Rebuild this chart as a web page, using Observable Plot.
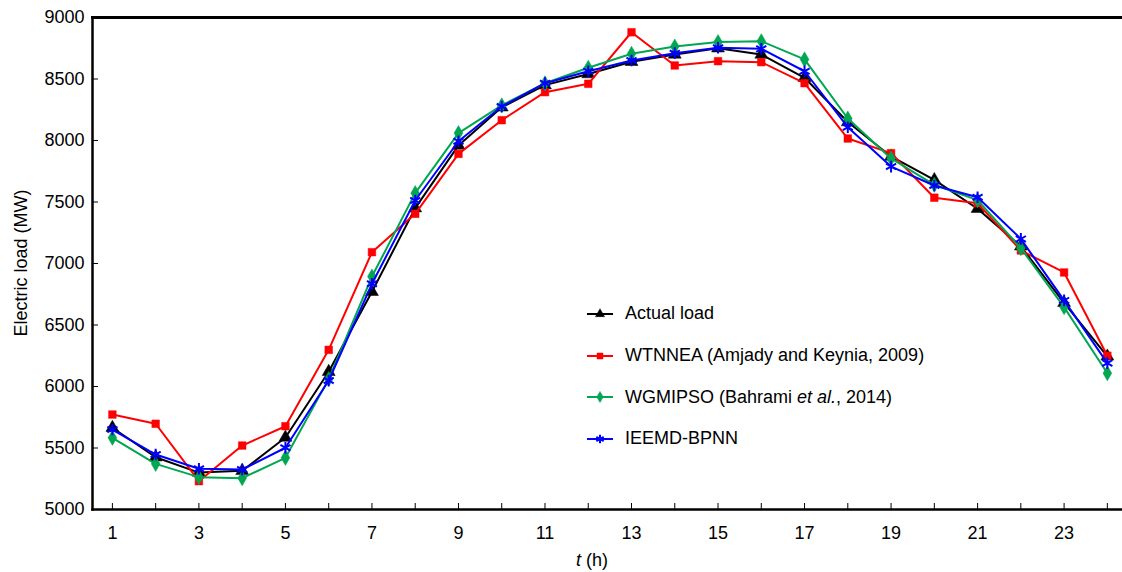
<!DOCTYPE html>
<html>
<head>
<meta charset="utf-8">
<script src="https://cdn.jsdelivr.net/npm/d3@7"></script>
<script src="https://cdn.jsdelivr.net/npm/@observablehq/plot@0.6"></script>
<style>
  html, body { margin: 0; padding: 0; background: #fff; }
  #wrap { position: relative; width: 1122px; height: 572px; font-family: Arial, "Liberation Sans", sans-serif; }
  #legend { position: absolute; left: 587px; top: 293px; font-size: 18px; color: #000; }
  .row { display: flex; align-items: center; height: 41.7px; }
  .row svg { margin-right: 10px; }
</style>
</head>
<body>
<div id="wrap"><div id="legend"></div></div>
<script>
// ---- data ----
const hours = [1,2,3,4,5,6,7,8,9,10,11,12,13,14,15,16,17,18,19,20,21,22,23,24];
const actualLoad = [5665,5425,5300,5315,5585,6120,6770,7450,7960,8270,8450,8540,8640,8700,8750,8700,8510,8150,7870,7680,7445,7140,6680,6245];
const wtnnea     = [5772,5697,5230,5520,5677,6298,7092,7404,7891,8165,8393,8461,8880,8610,8645,8637,8466,8016,7897,7535,7490,7106,6927,6250];
const wgmipso    = [5583,5371,5263,5255,5420,6060,6894,7572,8060,8285,8465,8591,8705,8764,8800,8807,8659,8179,7854,7640,7515,7125,6645,6108];
const ieemd      = [5650,5447,5331,5325,5502,6049,6835,7512,7994,8276,8466,8563,8650,8710,8754,8745,8563,8108,7788,7634,7539,7200,6700,6190];

const seriesNames = ["Actual load", "WTNNEA (Amjady and Keynia, 2009)", "WGMIPSO (Bahrami et al., 2014)", "IEEMD-BPNN"];
const seriesValues = [actualLoad, wtnnea, wgmipso, ieemd];
const seriesColors = ["#000000", "#ff0000", "#00a651", "#0000ff"];
const seriesSymbols = ["triangle", "square", "diamond", "asterisk"];

const xTicksAll = hours;
const xTickLabels = [1,3,5,7,9,11,13,15,17,19,21,23];
const yTicks = [5000,5500,6000,6500,7000,7500,8000,8500,9000];

// ---- long table ----
const rows = [];
seriesValues.forEach((vals, si) => vals.forEach((v, i) => rows.push({series: seriesNames[si], si, hour: hours[i], value: v})));

const marks = [];
seriesNames.forEach((name, si) => {
  const d = rows.filter(r => r.si === si);
  marks.push(Plot.line(d, {x: "hour", y: "value", stroke: seriesColors[si], strokeWidth: 2}));
  const sym = seriesSymbols[si];
  const isStroke = sym === "asterisk";
  marks.push(Plot.dot(d, {
    x: "hour", y: "value", symbol: () => sym,
    r: sym === "diamond" ? 4.6 : (sym === "triangle" ? 4.8 : (isStroke ? 5.5 : 4.3)),
    fill: isStroke ? "none" : seriesColors[si],
    stroke: seriesColors[si], strokeWidth: isStroke ? 2 : 0.5
  }));
});

const chart = Plot.plot({
  width: 1122,
  height: 572,
  marginLeft: 92,
  marginRight: 0,
  marginTop: 17,
  marginBottom: 63,
  style: {fontFamily: "Arial, 'Liberation Sans', sans-serif", fontSize: "18px", background: "white", color: "#000"},
  x: {domain: [0.54, 24.35], label: null},
  y: {domain: [5000, 9000], label: null},
  symbol: {type: "identity"},
  marks: [
    Plot.axisY({ticks: yTicks, tickSize: -6, tickPadding: 14, tickFormat: d => String(d), label: null, fontSize: 18}),
    Plot.axisX({ticks: xTicksAll, tickSize: -6, text: null, label: null}),
    Plot.axisX({ticks: xTickLabels, tickSize: 0, tickPadding: 17, tickFormat: d => String(d), label: null, fontSize: 18}),
    ...marks,
    Plot.frame({anchor: "top", strokeWidth: 3}),
    Plot.frame({anchor: "left", strokeWidth: 2.5}),
    Plot.frame({anchor: "bottom", strokeWidth: 2.5})
  ]
});

const svg = d3.select(chart);
svg.append("text")
  .attr("transform", "translate(27,263) rotate(-90)")
  .attr("text-anchor", "middle")
  .attr("font-size", 18)
  .attr("fill", "#000")
  .text("Electric load (MW)");
const xl = svg.append("text")
  .attr("x", 592).attr("y", 566)
  .attr("text-anchor", "middle")
  .attr("font-size", 18)
  .attr("fill", "#000");
xl.append("tspan").attr("font-style", "italic").text("t");
xl.append("tspan").text(" (h)");

document.getElementById("wrap").prepend(chart);
chart.style.position = "absolute";
chart.style.left = "0";
chart.style.top = "0";

// ---- legend ----
const symbolMap = {triangle: d3.symbolTriangle, square: d3.symbolSquare, diamond: d3.symbolDiamond, asterisk: d3.symbolAsterisk};
const legend = d3.select("#legend");
seriesNames.forEach((name, si) => {
  const row = legend.append("div").attr("class", "row");
  const s = row.append("svg").attr("width", 26).attr("height", 14);
  s.append("line").attr("x1", 0).attr("x2", 26).attr("y1", 7).attr("y2", 7)
    .attr("stroke", seriesColors[si]).attr("stroke-width", 2);
  const sym = seriesSymbols[si];
  s.append("path").attr("transform", "translate(13,7)")
    .attr("d", d3.symbol(symbolMap[sym], sym === "asterisk" ? 50 : 36)())
    .attr("fill", sym === "asterisk" ? "none" : seriesColors[si])
    .attr("stroke", seriesColors[si]).attr("stroke-width", sym === "asterisk" ? 2 : 0.5);
  const label = row.append("span");
  if (name.includes("et al.")) {
    const [a, b] = name.split("et al.");
    label.append("span").text(a);
    label.append("i").text("et al.");
    label.append("span").text(b);
  } else {
    label.text(name);
  }
  label.style("margin-left", "2px");
});
</script>
</body>
</html>
